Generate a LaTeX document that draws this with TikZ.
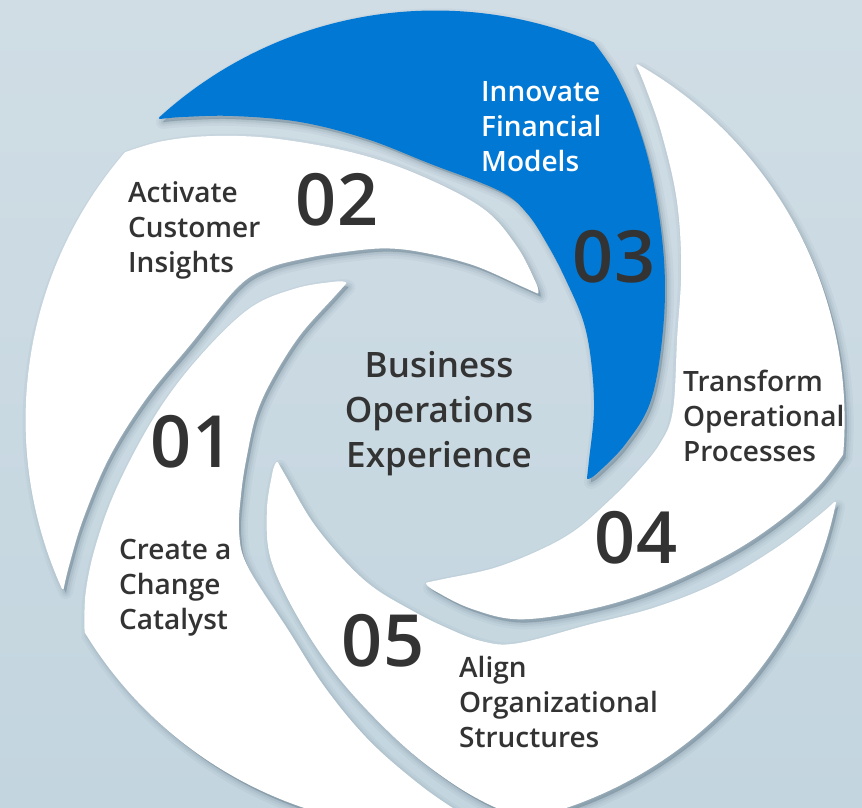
\documentclass[tikz,border=0pt]{standalone}
\usepackage{fontspec}
\setmainfont{Open Sans}
\IfFontExistsTF{Open Sans Semibold}
  {\newfontfamily\semib{Open Sans Semibold}}
  {\IfFontExistsTF{Open Sans SemiBold}
     {\newfontfamily\semib{Open Sans SemiBold}}
     {\newfontfamily\semib{Open Sans}[FakeBold=2]}}
\definecolor{bgtop}{HTML}{D0DDE5}
\definecolor{bgbot}{HTML}{C3D5DF}
\definecolor{msblue}{HTML}{0078D4}
\definecolor{txt}{HTML}{333333}
\definecolor{shad}{HTML}{5A7282}
\def\bladepath{(-275,302) arc[start angle=132.3, end angle=67.3, radius=409]
  -- plot[smooth, tension=0.6] coordinates {(158,377) (180,345) (200,300) (217,240) (228,160) (227,90) (215,20) (190,-23) (162,-52) (153,-58)}
  -- plot[smooth, tension=0.6] coordinates {(153,-58) (155,-40) (160,10) (157,60) (149,100) (132,140) (115,173) (93,207) (65,230) (-4,257) (-68,282) (-135,299) (-202,305) (-252,304) (-275,302)}
  -- cycle}
\begin{document}
\begin{tikzpicture}[x=1pt,y=-1pt,
  lab/.style={font=\semib\fontsize{28}{35}\selectfont, text=txt, align=left, anchor=west, inner sep=0pt},
  num/.style={font=\semib\fontsize{72}{72}\selectfont, text=txt, inner sep=0pt},
  hub/.style={font=\semib\fontsize{35}{45}\selectfont, text=txt, align=center, inner sep=0pt},
  bladefill/.style={fill=#1, draw=#1, line width=2pt, line join=round}]
\fill[top color=bgtop, bottom color=bgbot] (0,0) rectangle (862,808);
\useasboundingbox (0,0) rectangle (862,808);
% shadows
\foreach \a in {144,72,0,-72,-144} {
  \begin{scope}[shift={(438,424)}, x=1pt, y=1pt, rotate=\a]
    \foreach \w/\o in {14/0.06, 9/0.08, 5/0.11, 1/0.14} {
      \path[fill=shad, fill opacity=\o, draw=shad, draw opacity=\o, line width=\w pt, line join=round] \bladepath;
    }
  \end{scope}
}
% blades
\foreach \a/\c in {144/white,72/white,0/msblue,-72/white,-144/white} {
  \begin{scope}[shift={(435,420)}, x=1pt, y=1pt, rotate=\a]
    \path[bladefill=\c] \bladepath;
  \end{scope}
}
% numbers
\node[num] (n1) at (192,442) {01};
\node[num] (n2) at (337,200) {02};
\node[num] (n3) at (614,257) {03};
\node[num] (n4) at (636,538) {04};
\node[num] (n5) at (383,641) {05};
% labels
\node[lab] (l1) at (119,588) {Create a\\Change\\Catalyst};
\node[lab] (l2) at (128,230) {Activate\\Customer\\Insights};
\node[lab, text=white] (l3) at (481,127) {Innovate\\Financial\\Models};
\node[lab] (l4) at (683,416) {Transform\\Operational\\Processes};
\node[lab] (l5) at (459,702) {Align\\Organizational\\Structures};
\node[hub] (hub) at (439,414) {Business\\Operations\\Experience};
\end{tikzpicture}
\end{document}
